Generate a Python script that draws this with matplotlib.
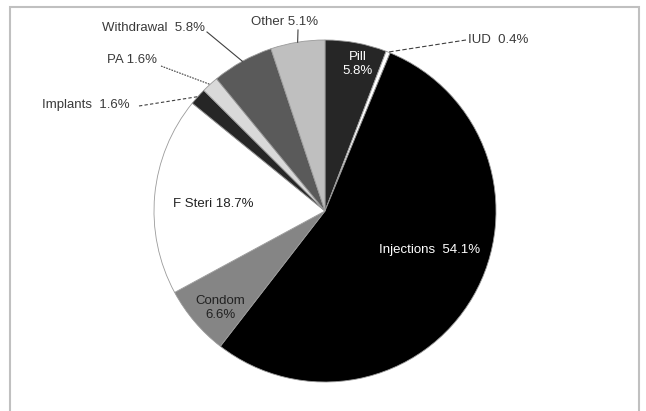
import matplotlib.pyplot as plt
import numpy as np
from matplotlib.patches import Rectangle

# Contraceptive method mix (%), clockwise from 12 o'clock
methods = ['Pill', 'IUD', 'Injections', 'Condom', 'F Steri',
           'Implants', 'PA', 'Withdrawal', 'Other']
shares = [5.8, 0.4, 54.1, 6.6, 18.7, 1.6, 1.6, 5.8, 5.1]
colors = ['#262626', '#ffffff', '#000000', '#858585', '#ffffff',
          '#262626', '#d9d9d9', '#5a5a5a', '#bfbfbf']

plt.rcParams['font.family'] = ['Liberation Sans', 'DejaVu Sans']

fig = plt.figure(figsize=(6.46, 4.11), dpi=100)
ax = fig.add_axes([0, 0, 1, 1])

# outer chart frame
fig.patches.append(Rectangle((10 / 646, -0.05), 629 / 646, (411 - 7) / 411 + 0.05,
                             transform=fig.transFigure, fill=False,
                             edgecolor='#c0c0c0', linewidth=1.5, clip_on=False))

cx, cy, r = 325, 200, 171
wedges, _ = ax.pie(shares, colors=colors, startangle=90, counterclock=False,
                   center=(cx, cy), radius=r, frame=True,
                   wedgeprops=dict(edgecolor='#9a9a9a', linewidth=0.6))

ax.set_xlim(0, 646)
ax.set_ylim(0, 411)
ax.set_aspect('equal')
ax.axis('off')

fs = 9.5
txt_dark = '#3a3a3a'


def edge_point(w, rr=1.0):
    mid = np.deg2rad((w.theta1 + w.theta2) / 2)
    return cx + rr * r * np.cos(mid), cy + rr * r * np.sin(mid)


# labels inside slices
ax.text(358, 347, 'Pill\n5.8%', color='white', fontsize=fs, ha='center',
        va='center', linespacing=1.3)
ax.text(430, 161, 'Injections  54.1%', color='white', fontsize=fs,
        ha='center', va='center')
ax.text(220, 103, 'Condom\n6.6%', color='#222222', fontsize=fs,
        ha='center', va='center', linespacing=1.3)
ax.text(213, 207, 'F Steri 18.7%', color='#222222', fontsize=fs,
        ha='center', va='center')

# labels outside with leader lines
outside = {
    'IUD': dict(text='IUD  0.4%', pos=(468, 371), ha='left',
                start=(466, 371), ls=(0, (4, 2))),
    'Other': dict(text='Other 5.1%', pos=(285, 389), ha='center',
                  start=(298, 381), ls='-'),
    'Withdrawal': dict(text='Withdrawal  5.8%', pos=(205, 383), ha='right',
                       start=(207, 379), ls='-'),
    'PA': dict(text='PA 1.6%', pos=(157, 351), ha='right',
               start=(161, 345), ls=(0, (1.5, 1))),
    'Implants': dict(text='Implants  1.6%', pos=(130, 306), ha='right',
                     start=(139, 305), ls=(0, (3, 2))),
}
for name, spec in outside.items():
    w = wedges[methods.index(name)]
    ex, ey = edge_point(w)
    ax.text(spec['pos'][0], spec['pos'][1], spec['text'], color=txt_dark,
            fontsize=fs, ha=spec['ha'], va='center')
    ax.plot([spec['start'][0], ex], [spec['start'][1], ey], color='#404040',
            linewidth=0.8, linestyle=spec['ls'])

plt.savefig('out.png', dpi=100, facecolor='white')
